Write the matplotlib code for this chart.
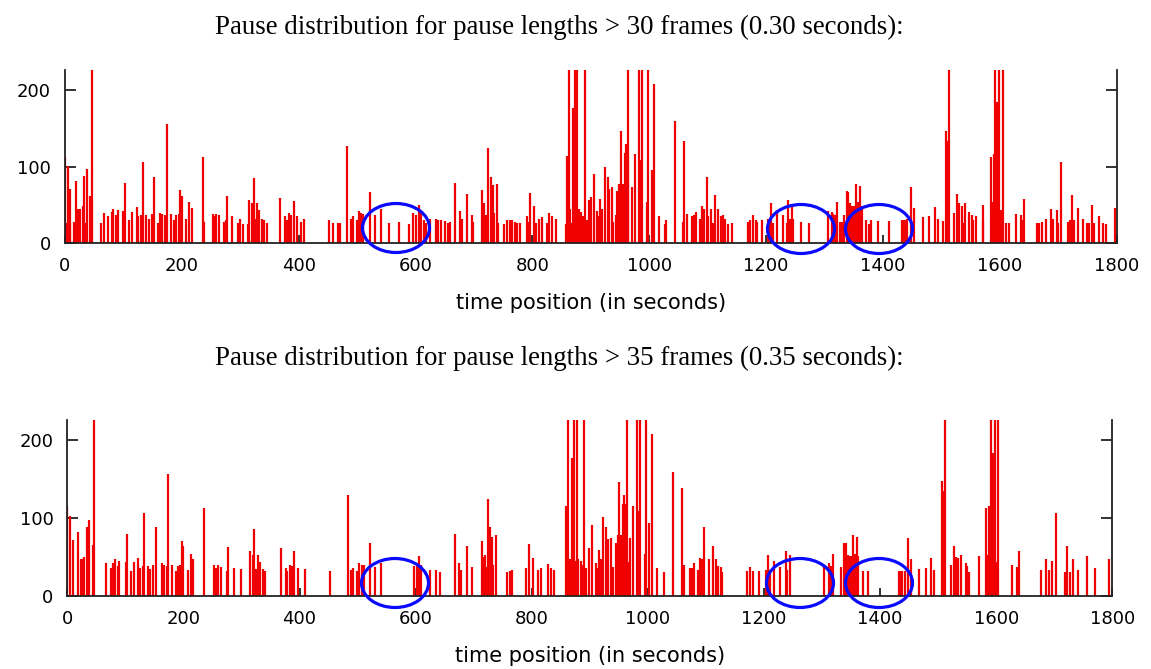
import matplotlib
matplotlib.use("Agg")
import matplotlib.pyplot as plt
from matplotlib.patches import Ellipse

# ---------------- data ----------------
CLIP = 260  # spikes that run off the top of the plot

top_title = "Pause distribution for pause lengths > 30 frames (0.30 seconds):"
bottom_title = "Pause distribution for pause lengths > 35 frames (0.35 seconds):"
xlabel = "time position (in seconds)"
xticks = [0, 200, 400, 600, 800, 1000, 1200, 1400, 1600, 1800]
yticks = [0, 100, 200]

top_t = [0, 1.7, 3.4, 5.1, 6.8, 8.6, 4.6, 9.1, 15.4, 18.3, 21.7, 24, 25.7, 30.2, 33.1, 35.4, 38.2, 42.8, 45.6,
         61.6, 66.7, 74.1, 79.9, 82.7, 87.3, 90.1, 99.8, 102.7, 109.5, 115.2, 122.6, 125.5, 130.1, 132.9, 138,
         143.7, 148.3, 152.9, 158.6, 163.1, 166.6, 171.1, 174, 181.4, 187.1, 190.5, 195.1, 196.8, 199.6, 207.1,
         212.2, 216.8, 235.6, 238.4, 253.8, 256.7, 259, 264.1, 272.1, 275, 276.7, 286.4, 296.6, 300, 304, 312.6,
         315.4, 319.4, 322.9, 325.1, 328, 332, 336.6, 340, 345.7, 368.5, 376.5, 379.3, 383.9, 386.7, 391.9,
         397.6, 403.3, 409.6,
         452.3, 458, 467.7, 470.6, 483.1, 488.9, 493.4, 499.1, 503.7, 506, 510.5, 521.9, 530.5, 540.2, 555, 571,
         588.1, 596.1, 600.7, 605.8, 609.2, 614.4, 617.8, 624.6, 634.3, 638.9, 642.9, 650.3, 654.9, 658.9, 667.5,
         676, 678.9, 688, 696, 698.9, 714.3, 717.1, 720.5, 723.4, 728.5, 731.9, 734.2, 738.8, 741.6, 751.9, 757,
         761.6, 764.4, 770.1, 773, 778.7, 790.1, 793, 795.8, 803.2, 806.1, 811.2, 815.8, 824.3, 828.9, 834,
         839.8, 857.4, 859.7, 863.1, 865, 867.1, 870, 872.8, 874.5, 876.8, 879.7, 883.1, 886, 890, 893, 896.8,
         900.1, 905.2, 909.8, 912.6, 915.5, 918.3, 924.1, 928.6, 930.9, 935.5, 938.3, 942.3, 944.6, 948.6, 950.3,
         951.4, 952.6, 954.3, 956, 958.3, 959.4, 961.1, 962.9, 964.1, 969.8, 975.4, 982.3, 983.7, 985.1, 988,
         995.4, 998.2, 1003.9, 1007.9, 1016.5, 1026.8, 1029, 1043.8, 1057, 1059.2, 1063.8, 1072.4, 1076.4,
         1079.8, 1086.7, 1090.7, 1093.5, 1098.1, 1100.9, 1105.5, 1109.5, 1112.9, 1118, 1122, 1126, 1129.4, 1134,
         1140.8, 1169.4, 1172.2, 1176.8, 1181.9, 1184.8, 1192.2, 1202.5, 1204.8, 1207.6, 1211.1, 1217.9, 1228.2,
         1235.1, 1237.9, 1240.8, 1243.7, 1246.5, 1259.1, 1273.9, 1305.3, 1312.1, 1315, 1317.8, 1320.7, 1326.4,
         1330.4, 1333.2, 1337.8, 1340.7, 1343.5,
         1346.1, 1349, 1351.8, 1354.7, 1359.2, 1362.1, 1353.5, 1357.5, 1360.4, 1364.4, 1370.7, 1376.3, 1379.2,
         1391.7, 1410, 1431.7, 1434.5, 1437.4, 1440.3, 1447.7, 1453.4, 1467.7, 1478.5, 1488.8, 1494.5, 1501.9,
         1507.6, 1509.4, 1510.5, 1512.2, 1521.9, 1527, 1529.9, 1534.4, 1537.3, 1540.2, 1547.6, 1551.6, 1554.5,
         1559, 1570.4, 1571.6, 1584.1, 1585.8, 1587.5, 1589.8, 1591.5, 1594.4, 1596.1, 1599, 1601.8, 1603.5,
         1605.8, 1610.4, 1614.9, 1627.5, 1635.5, 1638.3, 1641.2, 1662.9, 1667.4, 1671.4, 1678.8, 1686.8,
         1691.4, 1697.1, 1699.9, 1703.9, 1717.1, 1719.9, 1722.8, 1727.3, 1734.2, 1742.8, 1749.6, 1753, 1758.2,
         1761, 1770.2, 1775.9, 1781, 1797]
top_v = [112, 26, 26, 26, 26, 26, 101, 71, 28, 81, 45, 45, 45, 49, 88, 26, 97, 62, CLIP,
         26, 40, 35, 41, 45, 37, 43, 42, 79, 30, 41, 47, 35, 37, 106, 37,
         32, 38, 87, 27, 40, 38, 37, 155, 38, 30, 37, 38, 69, 62, 32,
         54, 46, 112, 28, 38, 35, 38, 37, 28, 30, 62, 35, 27, 32, 25, 25,
         56, 52, 85, 32, 52, 43, 32, 30, 27, 59, 35, 30, 39, 37, 55,
         35, 28, 32,
         30, 27, 27, 27, 127, 32, 35, 30, 42, 39, 38, 67, 37, 45, 27, 28,
         25, 40, 37, 50, 39, 30, 27, 32, 32, 30, 31, 29, 27, 28, 79,
         42, 32, 64, 37, 28, 69, 52, 37, 124, 87, 76, 40, 77, 27, 25, 30,
         30, 31, 28, 27, 27, 35, 28, 66, 48, 26, 32, 34, 26, 40, 35,
         32, 25, 114, CLIP, 45, 26, 176, CLIP, 40, CLIP, 45, 41, 35, CLIP, 30, 56,
         61, 91, 42, 35, 58, 45, 100, 87, 71, 73, 28, 37, 68, 77, 77,
         146, 77, 77, 77, 118, 130, 118, 118, CLIP, 73, 116, CLIP, 108, 108, CLIP,
         54, CLIP, 95, 208, 35, 25, 30, 159, 28, 134, 38, 35, 37,
         41, 32, 48, 45, 87, 35, 45, 26, 63, 45, 35, 37, 32, 25,
         27, 28, 30, 37, 30, 28, 31, 32, 32, 52, 26, 44, 37,
         26, 56, 32, 48, 32, 28, 26, 42, 41, 38, 37, 54, 28,
         28, 37, 68, 67, 52,
         48, 48, 48, 48, 48, 48, 77, 54, 75, 48, 31, 25, 31,
         29, 29, 31, 31, 31, 32, 74, 46, 34, 36, 47, 32, 29,
         147, 134, 134, CLIP, 39, 64, 52, 49, 26, 52, 41, 37, 31,
         35, 50, 29, 112, 54, 54, 116, CLIP, 184, 27, CLIP, 43, 43,
         CLIP, 27, 27, 38, 37, 30, 58, 27, 26, 28, 32, 45,
         32, 43, 27, 106, 28, 31, 63, 31, 46, 32, 27, 26, 50,
         27, 35, 27, 25, 46]

bot_t = [0, 4.7, 10.4, 17.9, 23.6, 25.9, 29.3, 33.4, 37.9, 43.7, 46, 66.1, 74.7, 79.3, 82.2, 86.7, 89.6, 100.5,
         102.2, 109.7, 114.9, 122.4, 125.2, 131, 132.7, 138.4, 143, 148.2, 152.8, 163.7, 166.5, 171.1, 174,
         180.9, 186.6, 190.1, 194.1, 197, 199.3, 207.3, 212.5, 217.1, 235.5, 252.7, 256.2, 259.1, 264, 274.5,
         276.2, 287.1, 299.2, 314.7, 319.3, 322.2, 325.1, 327.9, 331.9, 337.7, 340.5, 368.1, 376.1, 379, 383.6,
         386.5, 391.1, 396.8, 409.4,
         452.5, 482.9, 488.1, 492.6, 498.4, 503, 507, 511, 521.4, 530, 539.8, 597.7, 601.7, 605.8, 609.2, 624.7,
         634.5, 641.9, 667.8, 675.3, 678.1, 687.9, 696.5, 713.7, 716.6, 719.5, 722.3, 724.1, 728.1, 731, 733.8,
         738.4, 757.9, 762.5, 765.4, 790.1, 795.2, 802.7, 811.3, 815.9, 828.5, 833.1, 838.9, 859, 863, 866,
         869.9, 873.3, 875.5, 877.4, 880.2, 884.2, 887, 890, 893, 899.2,
         904.3, 910, 912.9, 915.8, 918.6, 923.3, 927.9, 930.7, 935.9, 940.5, 944.5, 948, 950.3, 950.9, 952.6,
         954.9, 956.6, 958.9, 960.6, 963, 964.6, 966.3, 969.2, 973.8, 980.7, 983.5, 986.4, 995, 996.8, 1002.5,
         1006.5, 1015.1, 1027.8, 1042.7, 1058.2, 1062.8, 1072.5, 1075.4, 1079.4, 1086.9, 1089.8, 1092.6,
         1096.7, 1105.3, 1112.8, 1116.8, 1121.4, 1125.4, 1128.3, 1171.2, 1175.8, 1181.6, 1191.3, 1202.8,
         1205.1, 1206.2, 1210.2, 1217.1, 1227.5, 1237.2, 1240.1, 1244.7, 1303.9, 1311.9, 1314.8, 1319.4,
         1332.6, 1338.4, 1341.2, 1344.1, 1352.7,
         1348.1, 1350.4, 1355, 1358.4, 1356.7, 1360.7, 1362.5, 1371.1, 1378.6, 1432.4, 1435.3, 1438.2, 1442.8,
         1447.4, 1452.6, 1467.5, 1478.4, 1487.6, 1492.8, 1506.6, 1508.9, 1510.6, 1512.3, 1521.5, 1526.7,
         1530.1, 1534.7, 1539.3, 1547.4, 1550.2, 1553.7, 1570.3, 1582.4, 1585.3, 1588.2, 1590.4, 1595,
         1597.3, 1600.8, 1602.5, 1626.6, 1635.2, 1637, 1639.3, 1677.2, 1685.2, 1691, 1695.6, 1703.1, 1718.6,
         1721.5, 1727.2, 1733, 1741.6, 1757.1, 1770.3, 1795]
bot_v = [116, 103, 72, 82, 47, 47, 50, 89, 97, 65, CLIP, 42, 36, 42, 47, 38, 44, 43,
         80, 32, 43, 49, 36, 38, 107, 38, 34, 39, 88, 42, 39, 38, 156,
         39, 32, 38, 40, 71, 64, 33, 54, 47, 113, 39, 36, 39, 37, 32,
         63, 36, 34, 57, 52, 86, 34, 52, 43, 34, 32, 61, 35, 32, 39,
         38, 57, 35, 34,
         32, 129, 33, 35, 32, 42, 39, 39, 68, 37, 42, 38, 38, 51, 40, 33,
         33, 31, 79, 42, 33, 64, 37, 70, 50, 52, 37, 125, 88, 76, 40,
         78, 31, 32, 33, 36, 66, 49, 33, 35, 41, 36, 33, 115, CLIP, 47,
         177, CLIP, 44, CLIP, 47, 44, 40, CLIP, 36, 61,
         91, 42, 36, 59, 47, 101, 88, 73, 74, 37, 68, 78, 78, 146, 78,
         78, 118, 130, 118, 118, CLIP, 43, 74, 116, CLIP, 109, CLIP, 54, CLIP, 94,
         208, 35, 31, 159, 138, 39, 36, 36, 42, 33, 49, 47,
         88, 47, 64, 47, 38, 37, 31, 32, 37, 32, 32, 33,
         33, 52, 33, 44, 37, 57, 33, 52, 38, 42, 38, 54,
         37, 68, 68, 52, 78,
         51, 51, 51, 51, 54, 76, 51, 32, 32, 32, 32, 32, 32,
         74, 47, 34, 35, 49, 33, 148, 135, 135, CLIP, 39, 64,
         50, 48, 52, 42, 38, 31, 51, 113, 52, 116, CLIP, 184,
         CLIP, 43, CLIP, 39, 37, 32, 57, 33, 47, 33, 44, 107, 31,
         64, 31, 47, 33, 51, 35, 47]

# annotation ellipses (figure pixel centres, as drawn on the reference)
circles_top = [(396, 228), (801, 229), (879, 229)]
circles_bot = [(395, 583), (800, 583), (879, 583)]

# ---------------- figure ----------------
W, H = 1151, 669
fig = plt.figure(figsize=(W / 100, H / 100), dpi=100)

def make_axes(rect, t, v, title_y, title):
    ax = fig.add_axes(rect)
    ax.vlines(t, 0, v, color="#f00000", lw=1.6, zorder=2)
    ax.set_xlim(0, 1800)
    ax.set_ylim(0, 226)
    ax.set_xticks(xticks)
    ax.set_yticks(yticks)
    ax.spines["top"].set_visible(False)
    for s in ["left", "right", "bottom"]:
        ax.spines[s].set_linewidth(1.3)
        ax.spines[s].set_color("#222222")
        ax.spines[s].set_zorder(3)
    ax.tick_params(axis="x", direction="in", length=6, width=1.3, color="#222222",
                   labelsize=13, pad=10)
    ax.tick_params(axis="y", direction="in", length=8, width=1.3, color="#222222",
                   labelsize=13, pad=10, right=True)
    for lab in ax.get_xticklabels() + ax.get_yticklabels():
        lab.set_fontfamily("DejaVu Sans")
    ax.set_xlabel(xlabel, fontsize=15, fontfamily="DejaVu Sans", labelpad=13)
    fig.text(559 / W, 1 - title_y / H, title, ha="center", va="center",
             fontsize=19.4, fontfamily="Liberation Serif")
    return ax

ax1 = make_axes([65 / W, 1 - 243.3 / H, (1116.7 - 65) / W, 173.3 / H], top_t, top_v, 27, top_title)
ax2 = make_axes([67.3 / W, 1 - 595.7 / H, (1112.3 - 67.3) / W, 175.7 / H], bot_t, bot_v, 358, bottom_title)

# overlay for the hand-drawn circles
ov = fig.add_axes([0, 0, 1, 1], zorder=10)
ov.set_xlim(0, W)
ov.set_ylim(H, 0)
ov.axis("off")
for cx, cy in circles_top + circles_bot:
    ov.add_patch(Ellipse((cx, cy), 67, 49, fill=False, edgecolor="#0a0aff", lw=2.3))

fig.savefig("out.png", dpi=100)
